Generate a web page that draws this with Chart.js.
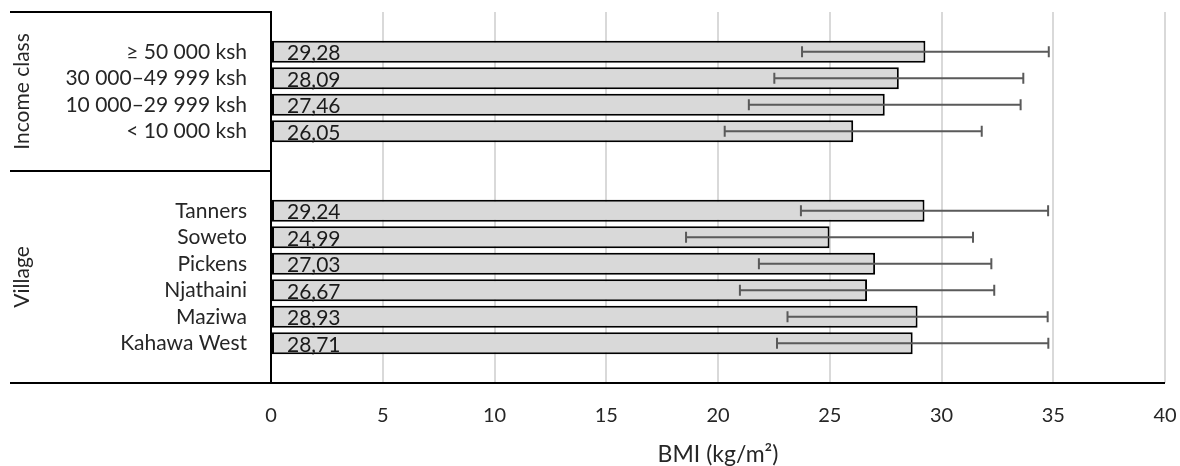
<!DOCTYPE html>
<html>
<head>
<meta charset="utf-8">
<script src="https://cdn.jsdelivr.net/npm/chart.js@4.4.1/dist/chart.umd.min.js"></script>
<style>
  html, body { margin: 0; background: #fff; }
  #wrap { width: 1180px; height: 466px; }
</style>
</head>
<body>
<div id="wrap"><canvas id="bmiChart" width="1180" height="466"></canvas></div>
<script>
// empty labels are spacer rows between the two groups
const categories = ['', '≥ 50 000 ksh', '30 000–49 999 ksh', '10 000–29 999 ksh', '< 10 000 ksh', '', '',
    'Tanners', 'Soweto', 'Pickens', 'Njathaini', 'Maziwa', 'Kahawa West', ''];
const meanBMI = [null, 29.28, 28.09, 27.46, 26.05, null, null, 29.24, 24.99, 27.03, 26.67, 28.93, 28.71, null];
const sdBMI = [null, 5.52, 5.57, 6.08, 5.75, null, null, 5.53, 6.42, 5.20, 5.69, 5.82, 6.07, null];
const groupNames = ['Income class', 'Village'];
const groupFirst = [1, 7];
const groupLast = [4, 12];
const xMin = 0, xMax = 40, xStep = 5;
const xTitle = 'BMI (kg/m²)';

const FONT = 'Lato';
const TEXT = '#262626';

// table lines on the left + the long bottom rule
const tableLines = {
    id: 'tableLines',
    afterDraw(chart) {
        const { ctx, chartArea, scales: { y } } = chart;
        const sep = (y.getPixelForValue(5) + y.getPixelForValue(6)) / 2;
        ctx.save();
        ctx.strokeStyle = '#000';
        ctx.lineWidth = 2;
        ctx.beginPath();
        ctx.moveTo(10, chartArea.top); ctx.lineTo(chartArea.left, chartArea.top);
        ctx.moveTo(10, sep); ctx.lineTo(chartArea.left, sep);
        ctx.moveTo(10, chartArea.bottom); ctx.lineTo(chartArea.right, chartArea.bottom);
        ctx.stroke();

        // rotated group names
        ctx.fillStyle = TEXT;
        ctx.font = '21px ' + FONT;
        ctx.textAlign = 'center';
        ctx.textBaseline = 'middle';
        groupNames.forEach((name, g) => {
            const yc = (y.getPixelForValue(groupFirst[g]) + y.getPixelForValue(groupLast[g])) / 2;
            ctx.save();
            ctx.translate(22, yc);
            ctx.rotate(-Math.PI / 2);
            ctx.fillText(name, 0, 0);
            ctx.restore();
        });
        ctx.restore();
    }
};

// +/- SD whiskers
const errorBars = {
    id: 'errorBars',
    afterDatasetsDraw(chart) {
        const { ctx, scales: { x, y } } = chart;
        ctx.save();
        ctx.strokeStyle = '#5a5a5a';
        ctx.lineWidth = 2;
        meanBMI.forEach((m, i) => {
            if (m == null) return;
            const yc = y.getPixelForValue(i);
            const x1 = x.getPixelForValue(m - sdBMI[i]);
            const x2 = x.getPixelForValue(m + sdBMI[i]);
            ctx.beginPath();
            ctx.moveTo(x1, yc); ctx.lineTo(x2, yc);
            ctx.moveTo(x1, yc - 5.5); ctx.lineTo(x1, yc + 5.5);
            ctx.moveTo(x2, yc - 5.5); ctx.lineTo(x2, yc + 5.5);
            ctx.stroke();
        });
        ctx.restore();
    }
};

// value written at the base of each bar, comma decimals
const valueLabels = {
    id: 'valueLabels',
    afterDatasetsDraw(chart) {
        const { ctx, scales: { x } } = chart;
        const bars = chart.getDatasetMeta(0).data;
        ctx.save();
        ctx.fillStyle = '#1a1a1a';
        ctx.font = '21px ' + FONT;
        ctx.textAlign = 'left';
        ctx.textBaseline = 'alphabetic';
        meanBMI.forEach((m, i) => {
            if (m == null) return;
            ctx.fillText(m.toFixed(2).replace('.', ','), x.getPixelForValue(0) + 16, bars[i].y + 8.5);
        });
        ctx.restore();
    }
};

const ctx = document.getElementById('bmiChart').getContext('2d');
const bmiChart = new Chart(ctx, {
    type: 'bar',
    data: {
        labels: categories,
        datasets: [{
            data: meanBMI,
            backgroundColor: '#d9d9d9',
            borderColor: '#000',
            borderWidth: 2,
            borderSkipped: false,
            barPercentage: 0.83,
            categoryPercentage: 1
        }]
    },
    options: {
        indexAxis: 'y',
        responsive: false,
        animation: false,
        layout: { padding: { left: 0, right: 15, top: 12, bottom: 0 } },
        plugins: { legend: { display: false }, tooltip: { enabled: false } },
        scales: {
            x: {
                min: xMin,
                max: xMax,
                ticks: { stepSize: xStep, padding: 21, color: TEXT, font: { family: FONT, size: 20 } },
                grid: { color: '#d9d9d9', lineWidth: 2, drawTicks: false },
                border: { display: false },
                title: { display: true, text: xTitle, color: TEXT, font: { family: FONT, size: 23, lineHeight: 1 }, padding: { top: 0, bottom: 0 } },
                afterFit(s) { s.height = 83; s.paddingLeft = 0; s.paddingRight = 0; }
            },
            y: {
                ticks: { padding: 24, color: TEXT, font: { family: FONT, size: 21 }, autoSkip: false },
                grid: { display: false, drawTicks: false },
                border: { color: '#000', width: 2 },
                afterFit(s) { s.width = 271; s.paddingTop = 0; s.paddingBottom = 0; }
            }
        }
    },
    plugins: [tableLines, errorBars, valueLabels]
});
</script>
</body>
</html>
